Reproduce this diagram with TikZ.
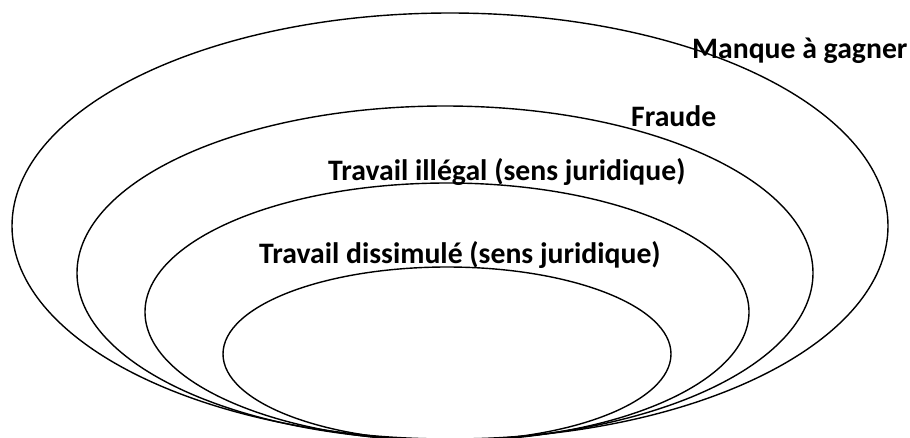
\documentclass[tikz,border=0pt]{standalone}
\usepackage{fontspec}
\setmainfont{Carlito}
\tikzset{
  zone/.style={line width=1.4pt},
  zonelabel/.style={font=\fontsize{29.7}{34}\selectfont\bfseries, anchor=base west, inner sep=0pt}
}
\begin{document}
\begin{tikzpicture}[x=1pt,y=-1pt]
                    \useasboundingbox (0,0) rectangle (910,437);
                    \clip (0,0) rectangle (910,437);

                    \draw [zone] (450,226) ellipse (438 and 213);
                    \draw [zone] (445,273) ellipse (368 and 167);
                    \draw [zone] (447,312) ellipse (302 and 129);
                    \draw [zone] (447,354) ellipse (224 and 87);

                    \node [zonelabel] (manque) at (692,58) {Manque à gagner};
                    \node [zonelabel] (fraude) at (631,126) {Fraude};
                    \node [zonelabel] (illegal) at (328,180) {Travail illégal (sens juridique)};
                    \node [zonelabel] (dissimule) at (259,263) {Travail dissimulé (sens juridique)};
                    \end{tikzpicture}
\end{document}
